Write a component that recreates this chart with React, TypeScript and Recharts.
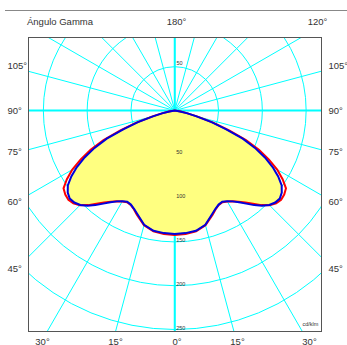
import { RadarChart, Radar, PolarGrid, PolarAngleAxis, PolarRadiusAxis } from 'recharts';

// gamma angles (deg) of the photometric curve, 0 = straight down
const gammaAngles = [
  0, 5, 10, 15, 20,
  22.5, 25, 27.5, 30, 32.5, 35, 37.5, 40, 42.5, 45, 47.5, 50, 52.5, 55, 57.5, 60,
  62.5, 65, 67.5, 70, 72.5, 75, 77.5, 80,
  85, 90, 95, 100, 105, 110, 115, 120, 125, 130, 135, 140, 145, 150, 155, 160, 165, 170, 175, 180,
];
// cd/klm, plane C0-C180 (red)
const planeC0 = [
  142, 141.5, 140, 135.5, 126.5,
  122, 119, 118, 120, 123, 127, 132.5, 139, 146.5, 153, 157, 158.5, 157.5, 155, 146, 135,
  121, 106, 88, 66, 46, 27, 15, 7,
  0, 0, 0, 0, 0, 0, 0, 0, 0, 0, 0, 0, 0, 0, 0, 0, 0, 0, 0, 0,
];
// cd/klm, plane C90-C270 (blue)
const planeC90 = [
  141, 140.5, 139.5, 135, 125.5,
  121.5, 118.5, 117.5, 119.5, 123, 128, 134, 141, 147.5, 152.5, 155.5, 156.5, 154, 149, 140, 129,
  116, 101, 84, 62, 44, 25, 14, 6,
  0, 0, 0, 0, 0, 0, 0, 0, 0, 0, 0, 0, 0, 0, 0, 0, 0, 0, 0, 0,
];

const spokeTicks = [0, 15, 30, 45, 60, 75, 90, 105, 120, 135, 150, 165, 180, 195, 210, 225, 240, 255, 270, 285, 300, 315, 330, 345];
const ringTicks = [50, 100, 150, 200, 250];

const sideLabels = ['105°', '90°', '75°', '60°', '45°'];
const bottomLabels = ['30°', '15°', '0°', '15°', '30°'];

// full turn: left half is one side of the plane, right half the other
const data: any[] = [];
gammaAngles.forEach((g, i) => data.push({ theta: g, red: planeC0[i], blue: planeC90[i] }));
for (let i = gammaAngles.length - 2; i > 0; i--) {
  data.push({ theta: 360 - gammaAngles[i], red: planeC0[i], blue: planeC90[i] });
}

const font = '"Liberation Sans", Arial, sans-serif';
const textColor = '#333';

function Label({ x, y, size = 9, align = 'left', children }: any) {
  const style: any = {
    position: 'absolute',
    left: x,
    top: y - size / 2,
    fontSize: size,
    lineHeight: `${size}px`,
    whiteSpace: 'nowrap',
    color: textColor,
  };
  if (align === 'center') style.transform = 'translateX(-50%)';
  return <div style={style}>{children}</div>;
}

const ringTick = (props: any) => (
  <text x={props.x + 1.5} y={props.y} fontSize={5.5} fill={textColor} fontFamily={font}>
    {props.payload.value}
  </text>
);

const sideY = [66, 110.5, 152, 201.5, 268.5];
const bottomX = [42.5, 115.5, 177, 237.5, 309.5];

export default function App() {
  return (
    <div
      style={{
        position: 'absolute',
        left: 0,
        top: 0,
        width: 347,
        height: 345,
        overflow: 'hidden',
        background: '#fff',
        fontFamily: font,
      }}
    >
      <div style={{ position: 'absolute', left: 5, top: 10, width: 342, height: 1, background: '#888' }} />
      <Label x={27} y={22} size={9.5}>Ángulo Gamma</Label>
      <Label x={176.5} y={22} size={9.5} align="center">180°</Label>
      <Label x={317.5} y={22} size={9.5} align="center">120°</Label>

      {sideLabels.map((l, i) => (
        <Label key={'l' + i} x={7.5} y={sideY[i]} size={9.5}>{l}</Label>
      ))}
      {sideLabels.map((l, i) => (
        <Label key={'r' + i} x={328.5} y={sideY[i]} size={9.5}>{l}</Label>
      ))}
      {bottomLabels.map((l, i) => (
        <Label key={'b' + i} x={bottomX[i]} y={341.5} size={9.5} align="center">{l}</Label>
      ))}

      <div style={{ position: 'absolute', left: 28, top: 37, width: 294, height: 295, overflow: 'hidden' }}>
        <RadarChart
          width={294}
          height={295}
          data={data}
          cx={146.75}
          cy={73.5}
          outerRadius={262.8}
          startAngle={-90}
          endAngle={-450}
          margin={{ top: 0, right: 0, bottom: 0, left: 0 }}
        >
          <Radar dataKey="blue" stroke="none" fill="#ffff80" fillOpacity={1} isAnimationActive={false} />
          <PolarGrid gridType="circle" stroke="#00ffff" strokeWidth={1} />
          <PolarGrid gridType="circle" stroke="#00ffff" strokeWidth={2} polarAngles={[0, 90, 180, 270]} polarRadius={[]} />
          <PolarAngleAxis dataKey="theta" type="number" domain={[0, 360]} ticks={spokeTicks} tick={false} axisLine={false} tickLine={false} />
          <PolarRadiusAxis angle={-90} domain={[0, 300]} ticks={ringTicks} tick={ringTick} axisLine={false} tickLine={false} />
          <Radar dataKey="red" stroke="#ff0000" strokeWidth={2} fill="none" isAnimationActive={false} />
          <Radar dataKey="blue" stroke="#0000dd" strokeWidth={2} fill="none" isAnimationActive={false} />
        </RadarChart>
      </div>
      <div
        style={{
          position: 'absolute',
          left: 28,
          top: 37,
          width: 294,
          height: 295,
          boxSizing: 'border-box',
          border: '1px solid #555',
        }}
      />
      <Label x={176.5} y={64} size={5.5}>50</Label>
      <Label x={302.5} y={325} size={5.5}>cd/klm</Label>
    </div>
  );
}
